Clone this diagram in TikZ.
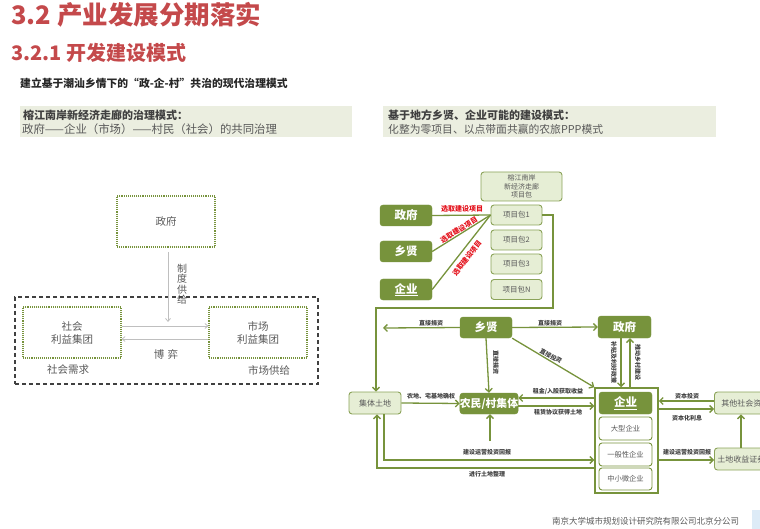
\documentclass[tikz,border=0pt]{standalone}
\usepackage{fontspec}
\setmainfont{Noto Sans CJK SC}
\usetikzlibrary{arrows.meta}
\definecolor{ttl}{HTML}{C4494B}
\definecolor{olive}{HTML}{77933C}
\definecolor{lt}{HTML}{E6EED5}
\definecolor{hdr}{HTML}{EBEEE0}
\definecolor{gtxt}{HTML}{595959}
\definecolor{dtxt}{HTML}{404040}
\definecolor{rlab}{HTML}{E3101A}
\definecolor{lgrey}{HTML}{BFBFBF}
\definecolor{lblue}{HTML}{DDEBF7}
\tikzset{
  dk/.style={draw=olive, fill=olive, rounded corners=3pt, text=white, font=\fontsize{11.5}{12}\selectfont\bfseries, inner sep=0pt, minimum width=52, minimum height=21},
  lb/.style={draw=olive!85, fill=lt, rounded corners=3pt, text=gtxt, font=\fontsize{7.5}{9}\selectfont, inner sep=0pt, line width=0.9pt},
  wb/.style={draw=olive, fill=white, rounded corners=3pt, text=gtxt, font=\fontsize{7.3}{9}\selectfont, inner sep=0pt, line width=0.9pt, minimum width=53, minimum height=23},
  ln/.style={draw=olive, line width=1.3pt},
  arr/.style={draw=olive, line width=1.3pt, -{Straight Barb[length=3.5pt,width=7pt]}},
  lab/.style={font=\fontsize{6}{7}\selectfont\bfseries, text=dtxt, inner sep=0.5pt},
  rl/.style={font=\fontsize{7}{8}\selectfont\bfseries, text=rlab, inner sep=0.3pt},
  dotbox/.style={draw=olive, densely dotted, line width=1.1pt, minimum width=98, minimum height=51, text=gtxt, font=\fontsize{10.5}{13}\selectfont, align=center},
  garr/.style={draw=lgrey, line width=0.8pt, -{Straight Barb[length=3pt,width=5pt]}},
  gt/.style={text=gtxt, font=\fontsize{10.5}{12}\selectfont, inner sep=0pt}
}
\begin{document}
\begin{tikzpicture}[x=1pt,y=-1pt]
\useasboundingbox (0,0) rectangle (760,529);
\clip (0,0) rectangle (760,529);
% titles
\node[anchor=west, text=ttl, font=\fontsize{25.5}{28}\selectfont\bfseries, inner sep=0] (t1) at (11,14.5) {3.2 产业发展分期落实};
\node[anchor=west, text=ttl, font=\fontsize{20}{22}\selectfont\bfseries, inner sep=0] (t2) at (11,52.5) {3.2.1 开发建设模式};
\node[anchor=west, text=black!85, font=\fontsize{10.8}{12}\selectfont\bfseries, inner sep=0] (t3) at (20,83) {建立基于潮汕乡情下的“政-企-村”共治的现代治理模式};
% header boxes
\node[fill=hdr, minimum width=332, minimum height=31, anchor=north west, inner sep=0] (hl) at (20,106) {};
\node[anchor=west, text=dtxt, font=\fontsize{11}{12}\selectfont\bfseries, inner sep=0] (hl1) at (23,115) {榕江南岸新经济走廊的治理模式：};
\node[anchor=west, text=gtxt, font=\fontsize{11.4}{12}\selectfont, inner sep=0] (hl2) at (22,129) {政府——企业（市场）——村民（社会）的共同治理};
\node[fill=hdr, minimum width=333, minimum height=31, anchor=north west, inner sep=0] (hr) at (383,106) {};
\node[anchor=west, text=dtxt, font=\fontsize{11}{12}\selectfont\bfseries, inner sep=0] (hr1) at (388,115) {基于地方乡贤、企业可能的建设模式：};
\node[anchor=west, text=gtxt, font=\fontsize{10.8}{12}\selectfont, inner sep=0] (hr2) at (388,129) {化整为零项目、以点带面共赢的农旅PPP模式};

% ---------- left diagram ----------
\node[draw=black!75, dashed, dash pattern=on 4pt off 3pt, line width=1.1pt, minimum width=303, minimum height=87, inner sep=0] (outer) at (166.5,340.5) {};
\node[dotbox] (lgov) at (166,221.5) {政府};
\node[dotbox] (lsoc) at (72,332.5) {社会\\利益集团};
\node[dotbox] (lmkt) at (258,332.5) {市场\\利益集团};
\coordinate (ldtop) at (168,252);
\coordinate (ldbot) at (168,322);
\draw[garr] (ldtop) -- (ldbot);
\node[gt, align=center, font=\fontsize{10}{10.5}\selectfont] (lzd) at (182,284) {制\\度\\供\\给};
\draw[garr] (lsoc.east |- 0,326) -- (lmkt.west |- 0,326);
\draw[garr] (lmkt.west |- 0,339) -- (lsoc.east |- 0,339);
\node[gt] (lby) at (166,354) {博\,\,弈};
\node[gt] (lxq) at (68,370) {社会需求};
\node[gt] (lgj) at (269,370) {市场供给};

% ---------- right diagram: top ----------
\node[lb, minimum width=81, minimum height=29, align=center, font=\fontsize{7}{8.3}\selectfont] (pkg) at (521.5,186.5) {榕江南岸\\新经济走廊\\项目包};
\node[lb, minimum width=51, minimum height=20] (p1) at (516.5,215) {项目包1};
\node[lb, minimum width=51, minimum height=20] (p2) at (516.5,240) {项目包2};
\node[lb, minimum width=51, minimum height=20] (p3) at (516.5,264) {项目包3};
\node[lb, minimum width=51, minimum height=20] (pN) at (516.5,289.5) {项目包N};
\node[dk] (gov1) at (406,215.5) {政府};
\node[dk] (xx1) at (406,251.5) {乡贤};
\node[dk] (qy1) at (406,289.5) {\underline{企业}};
\draw[ln] (gov1.east) -- (p1.west);
\draw[ln] (xx1.east) -- (p1.west);
\draw[ln] (qy1.east) -- (p1.west);
\node[rl] (r1) at (462,209) {选取建设项目};
\node[rl, rotate=31.5] (r2) at (459,230) {选取建设项目};
\node[rl, rotate=51.6] (r3) at (467,258) {选取建设项目};

% ---------- right diagram: middle ----------
\node[dk] (xx2) at (486,327.5) {乡贤};
\node[dk, minimum width=53, minimum height=22] (gov2) at (624.5,327) {政府};
\node[lb, minimum width=52, minimum height=22, font=\fontsize{8}{9}\selectfont] (jttd) at (375,403) {集体土地};
\node[dk, minimum width=58, minimum height=21, font=\fontsize{10.8}{12}\selectfont\bfseries] (nm) at (489,403.5) {农民/村集体};
\node[draw=olive, line width=1.5pt, minimum width=63, minimum height=105, inner sep=0] (qyall) at (626.5,440.5) {};
\node[dk, minimum width=53, minimum height=22] (qy2) at (625.5,403) {\underline{企业}};
\node[wb] (dx) at (625.5,428.5) {大型企业};
\node[wb] (yb) at (625.5,454.5) {一般性企业};
\node[wb, minimum height=22] (zx) at (625.5,479) {中小微企业};
\node[lb, anchor=west, minimum width=62, minimum height=22, font=\fontsize{8}{9}\selectfont] (qt) at (714,403) {其他社会资本};
\node[lb, anchor=west, minimum width=62, minimum height=22, font=\fontsize{8}{9}\selectfont] (td) at (714,459) {土地收益证券化};

% helper coordinates
\coordinate (k553) at (553,308);
\coordinate (k376) at (376,308);
\coordinate (kleft) at (383,328);
\coordinate (y459) at (0,460);
\coordinate (y467) at (0,468);
\coordinate (x384) at (384,0);
\coordinate (x377) at (377,0);
\coordinate (kup) at (490,441);
\coordinate (x621) at (621,0);
\coordinate (x630) at (630,0);
\coordinate (y398) at (0,398);
\coordinate (y406) at (0,406);
\coordinate (y401) at (0,401);
\coordinate (y409) at (0,409);
\coordinate (x741) at (741,0);

% project package flow to collective land
\draw[arr] (p1.east) -| (k553) -- (k376) -- (jttd.north -| k376);
% 乡贤 arrows
\draw[arr] (xx2.west) -- (kleft);
\draw[arr] (xx2.east) -- (gov2.west);
\draw[arr] (xx2.south) -- (nm.north);
\draw[arr] (xx2.south east) -- (qyall.north west);
\node[lab] at (431,323) {直接捐资};
\node[lab] at (550,323) {直接捐资};
\node[lab, rotate=-90] at (496,362) {直接捐资};
\node[lab, rotate=-29] at (551,356) {直接投资};
% government - enterprise
\draw[arr] (gov2.south -| x621) -- (qyall.north -| x621);
\draw[arr] (qyall.north -| x630) -- (gov2.south -| x630);
\node[lab, rotate=-90] at (614,362) {补贴及利好政策};
\node[lab, rotate=-90] at (638,362) {推动乡村建设};
% land to farmers
\draw[arr] (jttd.east) -- (nm.west);
\node[lab] at (431,396) {农地、宅基地确权};
% farmers - enterprise
\draw[arr] (qyall.west |- y398) -- (nm.east |- y398);
\draw[arr] (nm.east |- y406) -- (qyall.west |- y406);
\node[lab] at (558,391.5) {租金/入股获取收益};
\node[lab] at (558,412.5) {租赁协议获得土地};
% bottom loops
\draw[arr] (kup) -- (nm.south -| kup);
\node[lab] at (487,452) {建设运营投资回报};
\draw[arr] (jttd.south -| x384) |- (qyall.west |- y459);
\draw[arr] (qyall.west |- y467) -| (jttd.south -| x377);
\node[lab] at (487,474.5) {进行土地整理};
% enterprise - other capital
\draw[arr] (qt.west |- y401) -- (qyall.east |- y401);
\draw[arr] (qyall.east |- y409) -- (qt.west |- y409);
\node[lab] at (687,396) {资本投资};
\node[lab] at (687,418) {资本化利息};
\draw[arr] (qyall.east |- y459) -- (td.west |- y459);
\node[lab] at (687,452.5) {建设运营投资回报};
\draw[arr] (td.north -| x741) -- (qt.south -| x741);

% footer
\node[anchor=west, text=gtxt, font=\fontsize{8.5}{10}\selectfont, inner sep=0] (foot) at (552,521) {南京大学城市规划设计研究院有限公司北京分公司};
\node[fill=lblue, anchor=north west, minimum width=14, minimum height=20, inner sep=0] (badge) at (752,510) {};
\end{tikzpicture}
\end{document}
